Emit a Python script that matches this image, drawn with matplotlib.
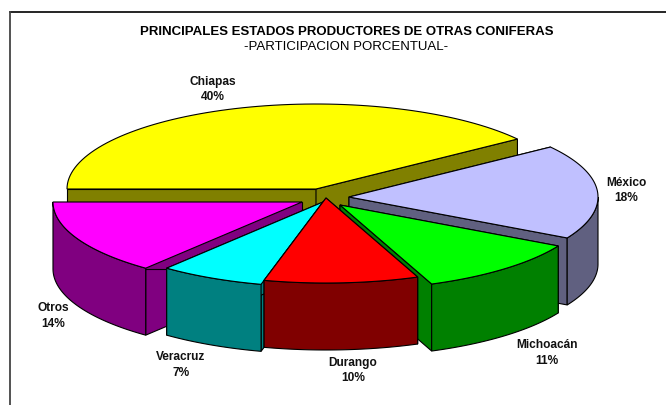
import numpy as np
import matplotlib
matplotlib.use('Agg')
import matplotlib.pyplot as plt
from matplotlib.patches import Polygon

plt.rcParams['font.family'] = ['Liberation Sans', 'DejaVu Sans']

# data, from 180 deg going clockwise
states = ['Chiapas', 'México', 'Michoacán', 'Durango', 'Veracruz', 'Otros']
shares = [40.0, 18.0, 11.0, 10.0, 6.8, 14.2]
top_colors = ['#FFFF00', '#C0C0FF', '#00FF00', '#FF0000', '#00FFFF', '#FF00FF']
side_colors = ['#808000', '#606080', '#008000', '#800000', '#008080', '#800080']

# layout in pixels
apex_x = [316, 349, 340, 326, 323, 302]
apex_y = [190, 198, 206, 199, 203, 203]
label_x = [213, 626, 547, 353, 181, 53]
label_y = [89.5, 190.5, 353, 370.5, 365, 316]
draw_order = [0, 1, 5, 2, 4, 3]
rx, ry, depth = 249, 85, 67


def arc(i, a1, a2):
    t = np.radians(np.linspace(a1, a2, 80))
    return np.column_stack([apex_x[i] + rx * np.cos(t), apex_y[i] - ry * np.sin(t)])


fig = plt.figure(figsize=(6.66, 4.06), dpi=100)
ax = fig.add_axes([0, 0, 1, 1])
ax.set_xlim(0, 666)
ax.set_ylim(406, 0)
ax.axis('off')

# chart frame, only top and left fall inside the picture
ax.plot([10, 666], [12.5, 12.5], color='black', lw=1.2)
ax.plot([10, 10], [12.5, 406], color='#444444', lw=1.3)

ends = 180 - np.cumsum([0] + shares) * 3.6
down = np.array([0, depth])
for i in draw_order:
    a1, a2 = ends[i], ends[i + 1]
    apex = np.array([apex_x[i], apex_y[i]])
    edge = arc(i, a1, a2)
    # cut faces
    for p in (edge[0], edge[-1]):
        ax.add_patch(Polygon([apex, p, p + down, apex + down], fc=side_colors[i], ec='black', lw=0.8))
    # outer wall, only the part below the horizontal
    if a2 < 0:
        low = arc(i, min(a1, 0), a2)
        ax.add_patch(Polygon(np.vstack([low, (low + down)[::-1]]), fc=side_colors[i], ec='black', lw=0.8))
    ax.add_patch(Polygon(np.vstack([apex, edge]), fc=top_colors[i], ec='black', lw=0.8))

ax.text(346.5, 32, 'PRINCIPALES ESTADOS PRODUCTORES DE OTRAS CONIFERAS', ha='center', va='center',
        fontsize=9.5, fontweight='bold')
ax.text(346.5, 47.5, '-PARTICIPACION PORCENTUAL-', ha='center', va='center', fontsize=9.5)

for name, val, x, y in zip(states, shares, label_x, label_y):
    ax.text(x, y, '%s\n%.0f%%' % (name, val), ha='center', va='center', fontsize=8.6,
            fontweight='bold', linespacing=1.42, color='#111111')

fig.savefig('out.png', dpi=100)
